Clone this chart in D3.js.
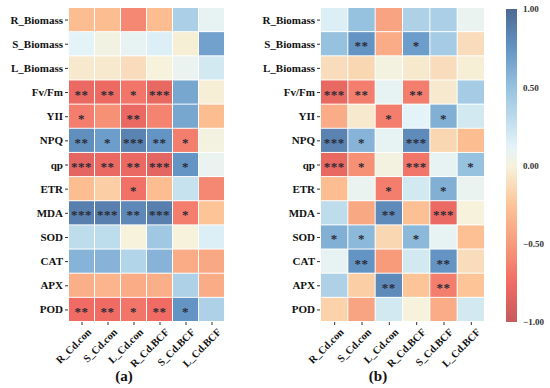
<!DOCTYPE html>
<html><head><meta charset="utf-8">
<script src="https://cdn.jsdelivr.net/npm/d3@7"></script>
<style>body{margin:0;background:#fff}svg{display:block}</style>
</head><body><svg id="c" width="550" height="388"></svg>
<script>
const rows = ["R_Biomass","S_Biomass","L_Biomass","Fv/Fm","YII","NPQ","qp","ETR","MDA","SOD","CAT","APX","POD"];
const cols = ["R_Cd.con","S_Cd.con","L_Cd.con","R_Cd.BCF","S_Cd.BCF","L_Cd.BCF"];
const valuesA = [
 [-0.30,-0.30,-0.60,-0.30, 0.40, 0.10],
 [ 0.12, 0.03, 0.10, 0.15,-0.02, 0.68],
 [-0.05,-0.05,-0.12, 0.00, 0.08, 0.20],
 [-0.78,-0.77,-0.70,-0.80, 0.65,-0.02],
 [-0.65,-0.55,-0.78,-0.62, 0.65,-0.30],
 [ 0.78, 0.70, 0.85, 0.75,-0.65, 0.02],
 [-0.82,-0.78,-0.78,-0.82, 0.75, 0.08],
 [-0.30,-0.20,-0.72,-0.30, 0.25,-0.60],
 [ 0.87, 0.87, 0.82, 0.87,-0.65,-0.25],
 [ 0.30, 0.30, 0.00, 0.45, 0.00, 0.15],
 [ 0.58, 0.58, 0.35, 0.58,-0.40,-0.42],
 [-0.38,-0.35,-0.40,-0.38, 0.38,-0.40],
 [-0.75,-0.75,-0.70,-0.75, 0.75, 0.38]
];
const starsA = [
 ["","","","","",""],
 ["","","","","",""],
 ["","","","","",""],
 ["**","**","*","***","",""],
 ["*","","**","","",""],
 ["**","*","***","**","*",""],
 ["***","**","**","***","*",""],
 ["","","*","","",""],
 ["***","***","**","***","*",""],
 ["","","","","",""],
 ["","","","","",""],
 ["","","","","",""],
 ["**","**","*","**","*",""]
];
const valuesB = [
 [ 0.15, 0.50,-0.45, 0.38, 0.40, 0.08],
 [ 0.50, 0.75,-0.40, 0.70, 0.42,-0.12],
 [-0.12,-0.15, 0.02,-0.05,-0.12,-0.02],
 [-0.80,-0.65, 0.10,-0.65,-0.05, 0.42],
 [-0.40,-0.05,-0.65, 0.12, 0.60, 0.20],
 [ 0.85, 0.58, 0.10, 0.80,-0.15,-0.30],
 [-0.80,-0.55, 0.02,-0.70, 0.10, 0.50],
 [-0.30, 0.08,-0.65, 0.20, 0.60, 0.08],
 [ 0.30,-0.42, 0.80,-0.28,-0.78, 0.00],
 [ 0.60, 0.55,-0.15, 0.55, 0.10,-0.28],
 [ 0.10, 0.75,-0.50, 0.20, 0.75,-0.12],
 [ 0.38,-0.20, 0.80,-0.25,-0.65,-0.25],
 [-0.18,-0.45, 0.20, 0.00,-0.40, 0.20]
];
const starsB = [
 ["","","","","",""],
 ["","**","","*","",""],
 ["","","","","",""],
 ["***","**","","**","",""],
 ["","","*","","*",""],
 ["***","*","","***","",""],
 ["***","*","","***","","*"],
 ["","","*","","*",""],
 ["","","**","","***",""],
 ["*","*","","*","",""],
 ["","**","","","**",""],
 ["","","**","","**",""],
 ["","","","","",""]
];
const cbTicks = [1.00, 0.50, 0.00, -0.50, -1.00];

const stops = [-1,-0.75,-0.5,-0.25,0,0.12,0.25,0.5,0.75,1];
const stopColors = ["#c65a5c","#f06b64","#f79b7b","#fdc597","#f6f2dc","#e4f3f8","#c7e2ef","#96c2e0","#6394c4","#4d6994"];
const color = d3.scaleLinear().domain(stops).range(stopColors).interpolate(d3.interpolateRgb).clamp(true);

const svg = d3.select("#c");
const font = "'Liberation Serif','Times New Roman',serif";
const y = d3.scaleBand().domain(rows).range([8, 322]);

function panel(x0, x1, values, stars, label) {
  const x = d3.scaleBand().domain(cols).range([x0, x1]);
  const g = svg.append("g");
  rows.forEach((r, i) => cols.forEach((c, j) => {
    g.append("rect").attr("x", x(c)).attr("y", y(r))
      .attr("width", x.bandwidth() - 1).attr("height", y.bandwidth() - 1)
      .attr("fill", color(values[i][j]));
    if (stars[i][j]) {
      g.append("text").attr("x", x(c) + x.bandwidth()/2 - 0.5).attr("y", y(r) + y.bandwidth()/2 + 6)
        .attr("text-anchor", "middle").attr("font-family", font).attr("font-weight", "bold")
        .attr("font-size", 13).attr("fill", "#2a2a35").attr("letter-spacing", "0.5px").text(stars[i][j]);
    }
  }));
  const ya = g.append("g").attr("transform", `translate(${x0 - 1},0)`)
    .call(d3.axisLeft(y).tickSize(3).tickPadding(2));
  ya.select(".domain").remove();
  ya.selectAll("text").attr("font-family", font).attr("font-weight", "bold").attr("font-size", 11).attr("fill", "#111");
  ya.selectAll("line").attr("stroke", "#333");
  const xa = g.append("g").attr("transform", `translate(0,322)`)
    .call(d3.axisBottom(x).tickSize(3).tickPadding(2));
  xa.select(".domain").remove();
  xa.selectAll("line").attr("stroke", "#333");
  xa.selectAll("text").attr("font-family", font).attr("font-weight", "bold").attr("font-size", 10.5).attr("fill", "#111")
    .attr("text-anchor", "end").attr("dy", "0.3em").attr("transform", "translate(4,5) rotate(-45)");
  svg.append("text").attr("x", (x0 + x1)/2 - 23 + (label==="(b)"?-2:0)).attr("y", 381).attr("text-anchor", "middle")
    .attr("font-family", font).attr("font-weight", "bold").attr("font-size", 15).attr("fill", "#111").text(label);
}
panel(69, 225, valuesA, starsA, "(a)");
panel(321, 485, valuesB, starsB, "(b)");

// colorbar
const cy = d3.scaleLinear().domain([-1, 1]).range([322, 9]);
const defs = svg.append("defs");
const grad = defs.append("linearGradient").attr("id", "cb").attr("x1", 0).attr("x2", 0).attr("y1", 1).attr("y2", 0);
stops.forEach((s, i) => grad.append("stop").attr("offset", (s + 1)/2).attr("stop-color", stopColors[i]));
svg.append("rect").attr("x", 506).attr("y", cy(1)).attr("width", 11).attr("height", cy(-1) - cy(1)).attr("fill", "url(#cb)");
const ca = svg.append("g").attr("transform", "translate(517,0)")
  .call(d3.axisRight(cy).tickValues(cbTicks).tickSize(0).tickPadding(6).tickFormat(d3.format(".2f")));
ca.select(".domain").remove();
ca.selectAll("text").attr("font-family", font).attr("font-weight", "bold").attr("font-size", 9).attr("fill", "#333")
  .text(d => d < 0 ? "\u2212" + d3.format(".2f")(-d) : d3.format(".2f")(d));
</script></body></html>
